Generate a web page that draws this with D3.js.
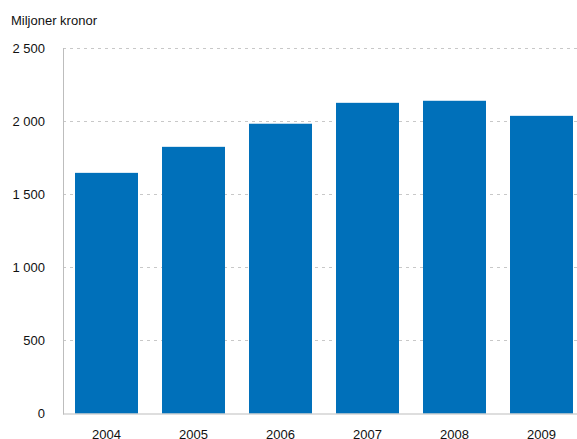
<!DOCTYPE html>
<html>
<head>
<meta charset="utf-8">
<script src="https://cdn.jsdelivr.net/npm/d3@7"></script>
<style>
  body { margin: 0; background: #fff; }
  svg { display: block; font-family: "Liberation Sans", Arial, sans-serif; }
</style>
</head>
<body>
<svg id="chart" width="577" height="439"></svg>
<script>
// Data
var years = ["2004", "2005", "2006", "2007", "2008", "2009"];
var values = [1646, 1824, 1982, 2125, 2139, 2036];
var yTicks = [0, 500, 1000, 1500, 2000, 2500];
var yTitle = "Miljoner kronor";

var margin = { left: 63, top: 48, bottom: 413.5 };
var svg = d3.select("#chart");

var x = d3.scaleBand()
  .domain(years)
  .range([margin.left, 585])
  .paddingInner(0.276)
  .paddingOuter(0.138);

var y = d3.scaleLinear()
  .domain([0, 2500])
  .range([margin.bottom, margin.top]);

function fmt(v) {
  return d3.format(",")(v).replace(/,/g, "\u2009").replace("\u2009", " ");
}

// dotted gridlines
svg.append("g")
  .selectAll("line")
  .data(yTicks.filter(function(d) { return d > 0; }))
  .enter().append("line")
  .attr("x1", margin.left)
  .attr("x2", 577)
  .attr("y1", function(d) { return Math.round(y(d)) + 0.5; })
  .attr("y2", function(d) { return Math.round(y(d)) + 0.5; })
  .attr("stroke", "#c8c8c8")
  .attr("stroke-width", 1)
  .attr("stroke-dasharray", "3,4");

// bars
svg.append("g")
  .selectAll("rect")
  .data(values)
  .enter().append("rect")
  .attr("x", function(d, i) { return x(years[i]); })
  .attr("width", x.bandwidth())
  .attr("y", function(d) { return y(d); })
  .attr("height", function(d) { return y(0) - y(d); })
  .attr("fill", "#0070ba");

// axis lines
svg.append("line")
  .attr("x1", margin.left + 0.5).attr("x2", margin.left + 0.5)
  .attr("y1", margin.top).attr("y2", margin.bottom + 1)
  .attr("stroke", "#bdbdbd").attr("stroke-width", 1);

svg.append("line")
  .attr("x1", margin.left).attr("x2", 577)
  .attr("y1", margin.bottom + 0.5).attr("y2", margin.bottom + 0.5)
  .attr("stroke", "#bdbdbd").attr("stroke-width", 1);

// y tick labels
svg.append("g")
  .selectAll("text")
  .data(yTicks)
  .enter().append("text")
  .attr("x", 45)
  .attr("y", function(d) { return y(d); })
  .attr("dy", "0.35em")
  .attr("text-anchor", "end")
  .style("font-size", "13px")
  .attr("fill", "#111")
  .text(function(d) { return d3.format(",")(d).replace(/,/g, " "); });

// x labels
svg.append("g")
  .selectAll("text")
  .data(years)
  .enter().append("text")
  .attr("x", function(d) { return x(d) + x.bandwidth() / 2; })
  .attr("y", 439)
  .attr("text-anchor", "middle")
  .style("font-size", "13px")
  .attr("fill", "#111")
  .text(function(d) { return d; });

// axis title
svg.append("text")
  .attr("x", 11)
  .attr("y", 25)
  .style("font-size", "13px")
  .attr("fill", "#111")
  .text(yTitle);
</script>
</body>
</html>
